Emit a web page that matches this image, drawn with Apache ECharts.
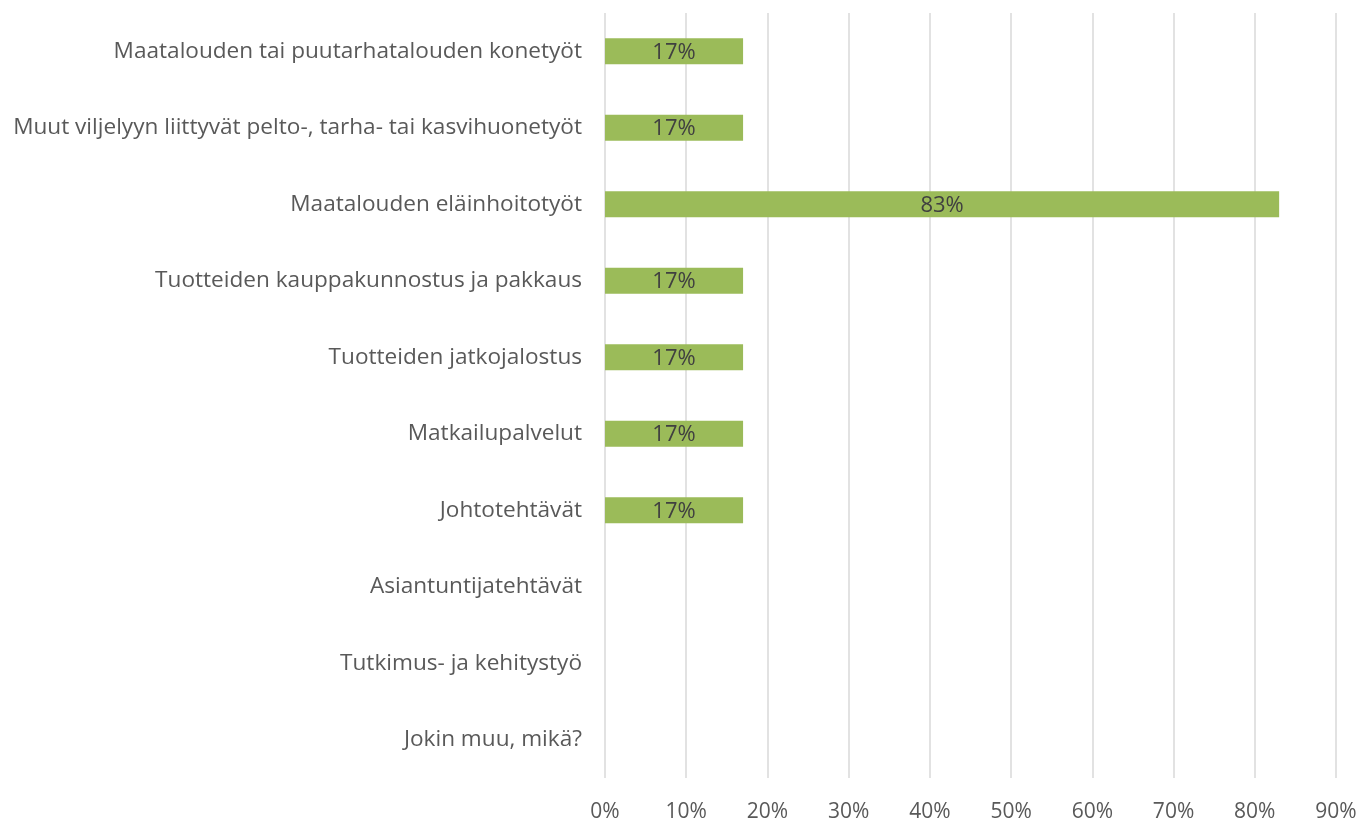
<!DOCTYPE html>
<html>
<head>
<meta charset="utf-8">
<script src="https://cdn.jsdelivr.net/npm/echarts@6/dist/echarts.min.js"></script>
<style>
html, body { margin: 0; padding: 0; background: #fff; }
#chart { width: 1360px; height: 823px; }
</style>
</head>
<body>
<div id="chart"></div>
<script>
var categories = [
	'Maatalouden tai puutarhatalouden konetyöt',
	'Muut viljelyyn liittyvät pelto-, tarha- tai kasvihuonetyöt',
	'Maatalouden eläinhoitotyöt',
	'Tuotteiden kauppakunnostus ja pakkaus',
	'Tuotteiden jatkojalostus',
	'Matkailupalvelut',
	'Johtotehtävät',
	'Asiantuntijatehtävät',
	'Tutkimus- ja kehitystyö',
	'Jokin muu, mikä?'
];
var values = [17, 17, 83, 17, 17, 17, 17, 0, 0, 0];

var myChart = echarts.init(document.getElementById('chart'));
var font = 'Open Sans';

var option = {
	animation: false,
	grid: {
		left: 605,
		right: 24,
		top: 13,
		bottom: 42
	},
	xAxis: {
		type: 'value',
		min: 0,
		max: 90,
		interval: 10,
		axisLine: { show: false },
		axisTick: { show: false },
		splitLine: { lineStyle: { color: '#d9d9d9', width: 1.5 } },
		axisLabel: {
			formatter: '{value}%',
			color: '#595959',
			fontFamily: font,
			fontSize: 21,
			margin: 24
		}
	},
	yAxis: {
		type: 'category',
		inverse: true,
		data: categories,
		axisLine: { show: false },
		axisTick: { show: false },
		axisLabel: {
			color: '#595959',
			fontFamily: font,
			fontSize: 22.6,
			padding: [3, 0, 0, 0],
			margin: 23
		}
	},
	series: [{
		type: 'bar',
		data: values,
		barWidth: 26,
		itemStyle: { color: '#9bbb59' },
		label: {
			show: true,
			position: 'inside',
			offset: [0, 1],
			color: '#404040',
			fontFamily: font,
			fontSize: 22,
			formatter: function (p) {
				return p.value ? p.value + '%' : '';
			}
		}
	}]
};

myChart.setOption(option);
</script>
</body>
</html>
